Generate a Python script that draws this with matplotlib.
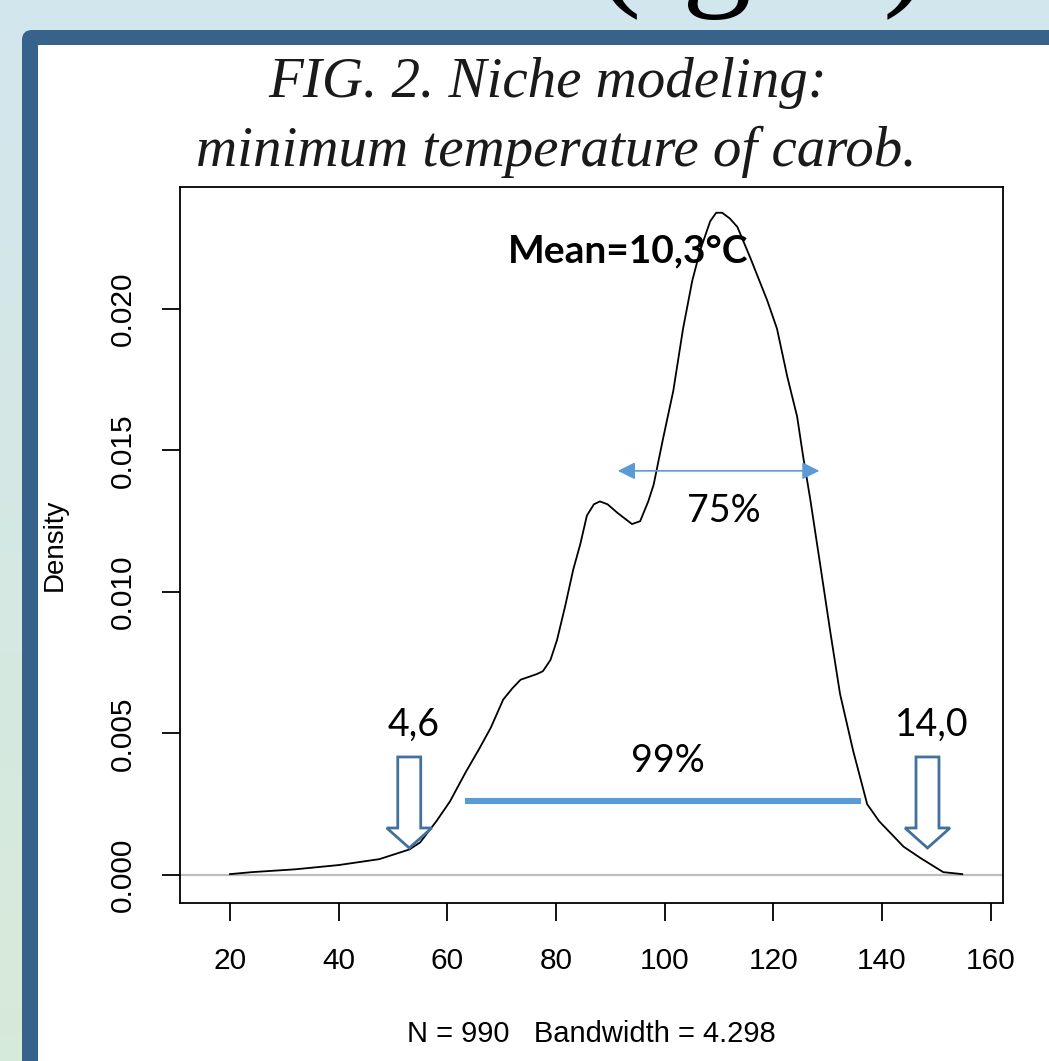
import numpy as np
import matplotlib
matplotlib.use("Agg")
import matplotlib.pyplot as plt
from matplotlib.patches import FancyBboxPatch, Rectangle, FancyArrow

plt.rcParams["font.family"] = ["Liberation Sans", "DejaVu Sans"]

# density curve (temperature in tenths of degree)
temp = [20, 24, 32, 40, 47.5, 53, 55, 58, 60.5, 63.3, 66, 68, 70.3, 72, 73.5, 76.5, 77.6, 79,
        80.2, 81.7, 83.2, 84.5, 85.7, 87, 88.1, 89.5, 91.3, 94, 95.5, 97, 98, 99.7, 101.6, 103.4,
        105.1, 106.6, 108.4, 109.5, 110.6, 112, 113.4, 115.8, 118.9, 120.7, 122.6, 124.4, 125.5,
        126.8, 128.7, 130.5, 132.3, 134.7, 137.3, 139.5, 141.5, 144, 147.1, 151.3, 154.8]
density = [0.00003, 0.0001, 0.0002, 0.00035, 0.00056, 0.0009, 0.00115, 0.0019, 0.0026, 0.0036,
           0.0045, 0.0052, 0.0062, 0.0066, 0.0069, 0.0071, 0.0072, 0.0076, 0.0083, 0.0095, 0.0108,
           0.0117, 0.0127, 0.0131, 0.0132, 0.0131, 0.0128, 0.0124, 0.0125, 0.0132, 0.0138, 0.0154,
           0.0171, 0.0193, 0.0210, 0.0221, 0.0231, 0.0234, 0.0234, 0.0232, 0.0229, 0.0218, 0.0203,
           0.0193, 0.0176, 0.0162, 0.0148, 0.0133, 0.0109, 0.0086, 0.0064, 0.0044, 0.0025, 0.0019,
           0.0015, 0.0010, 0.0006, 0.0001, 0.00003]

x_ticks = [20, 40, 60, 80, 100, 120, 140, 160]
y_ticks = [0.000, 0.005, 0.010, 0.015, 0.020]
y_tick_labels = ["0.000", "0.005", "0.010", "0.015", "0.020"]

range75 = [91.4, 128.5]
range99 = [63.3, 136.2]
limits = [53.0, 148.4]
limit_labels = ["4,6", "14,0"]

W, H = 1049, 1061
fig = plt.figure(figsize=(W / 100, H / 100), dpi=100)

# background: light gradient, dark blue frame, white panel
bg = fig.add_axes([0, 0, 1, 1], zorder=-5)
bg.set_xlim(0, W)
bg.set_ylim(H, 0)
bg.axis("off")
top_c = np.array([0.827, 0.902, 0.933])
bot_c = np.array([0.843, 0.918, 0.851])
t = np.linspace(0, 1, 200)[:, None, None]
grad = top_c * (1 - t) + bot_c * t
bg.imshow(grad, extent=[0, W, H, 0], aspect="auto")
bg.add_patch(FancyBboxPatch((22, 30), W + 50, H + 50, boxstyle="round,pad=0,rounding_size=10",
                            fc="#37628c", ec="none"))
bg.add_patch(Rectangle((38, 45), W, H, fc="white", ec="none"))
# bottom of a large heading that is cut off by the top edge
for ch, xp in [("(", 595), ("g", 682), (")", 883)]:
    bg.text(xp, -10, ch, fontsize=100, family="Liberation Serif", va="baseline", ha="left",
            color="black")

fig.text(548 / W, 1 - 97 / H, "FIG. 2. Niche modeling:", family="Liberation Serif",
         style="italic", fontsize=41, ha="center", va="baseline", color="#1a1a1a")
fig.text(556 / W, 1 - 166 / H, "minimum temperature of carob.", family="Liberation Serif",
         style="italic", fontsize=41, ha="center", va="baseline", color="#1a1a1a")

ax = fig.add_axes([180 / W, 1 - 903 / H, 823 / W, 716 / H])
ax.plot(temp, density, color="black", lw=1.3, zorder=3)
ax.axhline(0, color="#bebebe", lw=1.6, zorder=2)
ax.set_xlim(10.8, 162.3)
ax.set_ylim(-0.00099, 0.02431)

for s in ["left", "right", "top", "bottom"]:
    ax.spines[s].set_linewidth(1.3)

ax.set_xticks(x_ticks)
ax.set_xticklabels([str(v) for v in x_ticks])
ax.set_yticks(y_ticks)
ax.set_yticklabels(y_tick_labels, rotation=90, va="center")
ax.tick_params(direction="out", length=13, width=1.3, labelsize=21.5)
ax.tick_params(axis="x", pad=19)
ax.tick_params(axis="y", pad=18)

ax.set_ylabel("Density", fontsize=20, labelpad=30)
ax.set_xlabel("N = 990   Bandwidth = 4.298", fontsize=21, labelpad=32)

blue = "#5b9bd5"
ax.annotate("", xy=(range75[1], 0.01428), xytext=(range75[0], 0.01428),
            arrowprops=dict(arrowstyle="<|-|>", color=blue, lw=1.2, mutation_scale=26,
                            shrinkA=0, shrinkB=0), zorder=4)
ax.plot(range99, [0.00261, 0.00261], color=blue, lw=4.4, solid_capstyle="butt", zorder=4)

for xc, lab in zip(limits, limit_labels):
    ax.add_patch(FancyArrow(xc, 0.00417, 0, -(0.00417 - 0.000954), width=4.23,
                            head_width=8.28, head_length=0.000707, length_includes_head=True,
                            fc="white", ec="#41719c", lw=2, zorder=5))
    ax.text(xc + 0.8, 0.00491, lab, family="Lato", fontsize=27, ha="center", va="baseline")

ax.text(110.9, 0.01247, "75%", family="Lato", fontsize=27, ha="center", va="baseline")
ax.text(100.6, 0.00364, "99%", family="Lato", fontsize=27, ha="center", va="baseline")
ax.text(93.2, 0.02166, "Mean=10,3°C", family="Lato", fontweight="bold", fontsize=28,
        ha="center", va="baseline")

fig.savefig("out.png", dpi=100)
